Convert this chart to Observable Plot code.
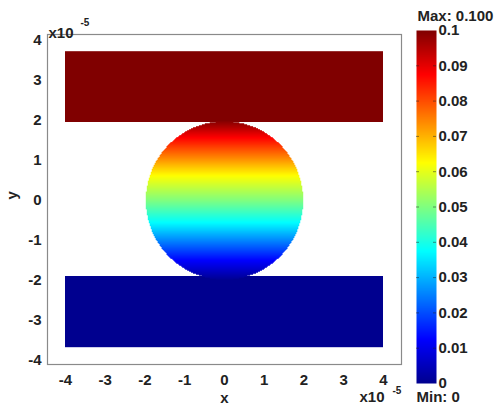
<!DOCTYPE html>
<html>
<head>
<meta charset="utf-8">
<script src="https://cdn.jsdelivr.net/npm/d3@7"></script>
<script src="https://cdn.jsdelivr.net/npm/@observablehq/plot@0.6"></script>
<style>
  html, body { margin: 0; padding: 0; background: #fff; }
  #wrap { position: relative; width: 503px; height: 414px; font-family: "Liberation Sans", Arial, sans-serif; }
  #wrap svg { position: absolute; top: 0; }
</style>
</head>
<body>
<div id="wrap"></div>
<script>
// ---- data (x, y in units of 1e-5) ----
const xTicks = [-4, -3, -2, -1, 0, 1, 2, 3, 4];
const yTicks = [-4, -3, -2, -1, 0, 1, 2, 3, 4];
const rectX1 = [-4, -4];
const rectX2 = [4, 4];
const rectY1 = [1.95, -3.68];
const rectY2 = [3.72, -1.9];
const rectV  = [0.1, 0];
const circleR = 1.98;
const circleY = [-2, -1.5, -0.55, 0, 0.62, 1.57, 2];
const circleV = [0, 0.0125, 0.0375, 0.05, 0.0625, 0.0875, 0.1];
const colorTicks = [0, 0.01, 0.02, 0.03, 0.04, 0.05, 0.06, 0.07, 0.08, 0.09, 0.1];
const jetStops  = [0, 0.0125, 0.0375, 0.0625, 0.0875, 0.1];
const jetColors = ["#00008f", "#0000ff", "#00ffff", "#ffff00", "#ff0000", "#800000"];

const rects = rectV.map((v, i) => ({x1: rectX1[i], x2: rectX2[i], y1: rectY1[i], y2: rectY2[i], v}));
const valueAtY = d3.scaleLinear(circleY, circleV).clamp(true);

const colorOpt = {type: "linear", domain: jetStops, range: jetColors, interpolate: "rgb"};
const font = {fontFamily: "Liberation Sans, Arial, sans-serif", fontSize: "15px", fontWeight: "bold", color: "#222"};
const hyphen = d => String(d);
const T = {fontSize: 15, fontWeight: "bold"};

const main = Plot.plot({
  width: 410, height: 414,
  marginLeft: 47, marginRight: 9, marginTop: 34, marginBottom: 50,
  x: {domain: [-4.453, 4.453]},
  y: {domain: [-4.1, 4.15]},
  color: colorOpt,
  style: font,
  marks: [
    Plot.rect(rects, {x1: "x1", x2: "x2", y1: "y1", y2: "y2", fill: "v"}),
    Plot.raster({
      x1: -circleR, x2: circleR, y1: -circleR, y2: circleR,
      width: 160, height: 160,
      fill: (x, y) => (x * x + y * y <= circleR * circleR ? valueAtY(y) : NaN),
      imageRendering: "auto"
    }),
    Plot.frame({stroke: "#8a8a8a", strokeWidth: 1.2}),
    Plot.axisX(xTicks, {tickSize: 0, tickPadding: 10, tickFormat: hyphen, label: null, ...T}),
    Plot.axisY(yTicks, {tickSize: 0, tickPadding: 6, tickFormat: hyphen, label: null, ...T}),
    Plot.text(["x"], {frameAnchor: "bottom", dy: 38, ...T}),
    Plot.text(["y"], {frameAnchor: "left", dx: -35, rotate: -90, ...T}),
    Plot.text(["x10"], {frameAnchor: "top-left", dx: 1, dy: -7, textAnchor: "start", ...T}),
    Plot.text(["-5"], {frameAnchor: "top-left", dx: 33, dy: -16, textAnchor: "start", fontSize: 10, fontWeight: "bold"}),
    Plot.text(["x10"], {frameAnchor: "bottom-right", dx: -42, dy: 37, textAnchor: "start", ...T}),
    Plot.text(["-5"], {frameAnchor: "bottom-right", dx: -9, dy: 29, textAnchor: "start", fontSize: 10, fontWeight: "bold"})
  ]
});
main.style.left = "0px";

const bar = Plot.plot({
  width: 93, height: 414,
  marginLeft: 6, marginRight: 67, marginTop: 30, marginBottom: 31,
  x: {domain: [0, 1], axis: null},
  y: {domain: [0, 0.1]},
  color: colorOpt,
  style: font,
  marks: [
    Plot.raster({x1: 0, x2: 1, y1: 0, y2: 0.1, width: 1, height: 300, fill: (x, y) => y, imageRendering: "auto"}),
    Plot.ruleY(colorTicks.slice(1, -1), {x1: 0, x2: 0.15, stroke: "#222", strokeOpacity: 0.5}),
    Plot.ruleY(colorTicks.slice(1, -1), {x1: 0.85, x2: 1, stroke: "#222", strokeOpacity: 0.5}),
    Plot.axisY(colorTicks, {anchor: "right", tickSize: 0, tickPadding: 2, tickFormat: d3.format("~g"), label: null, ...T}),
    Plot.text(["Max: 0.100"], {frameAnchor: "top-left", dx: 1, dy: -20, textAnchor: "start", ...T}),
    Plot.text(["Min: 0"], {frameAnchor: "bottom-left", dx: 0, dy: 18, textAnchor: "start", ...T})
  ]
});
bar.style.left = "410px";

const wrap = document.getElementById("wrap");
wrap.appendChild(main);
wrap.appendChild(bar);
</script>
</body>
</html>
